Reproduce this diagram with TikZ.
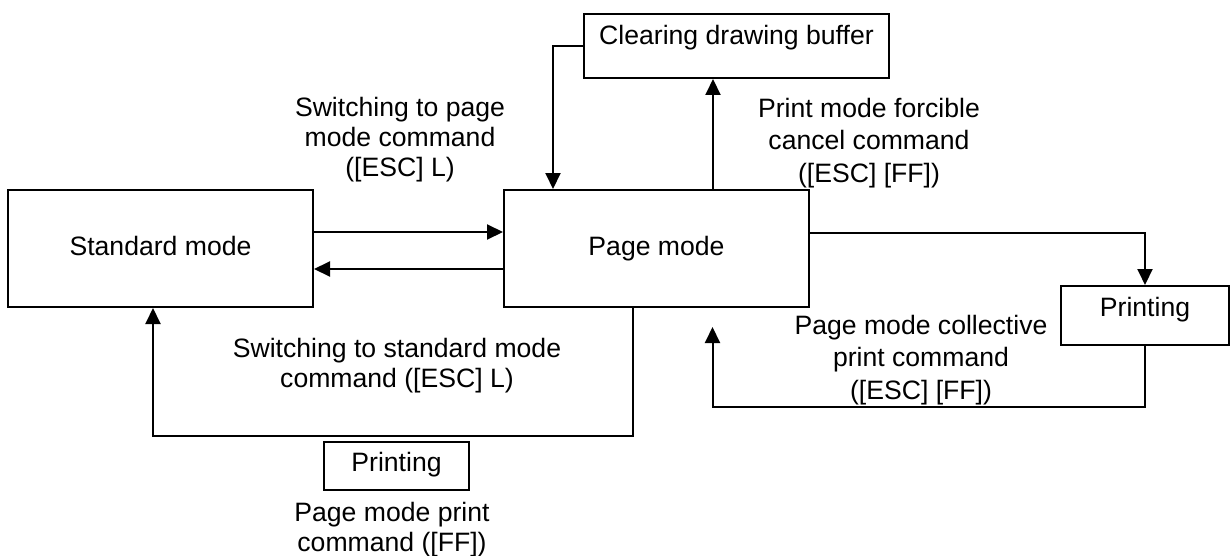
\documentclass[tikz,border=0pt]{standalone}
\usepackage{fontspec}
\setmainfont{Liberation Sans}
\usetikzlibrary{positioning, arrows.meta}

\tikzset{
    box/.style={draw, line width=1pt, inner sep=0pt, text height=9.5pt, text depth=2.7pt},
    lbl/.style={align=center, inner sep=0pt},
    wide/.style={font=\fontsize{13.3}{16.3}\selectfont}
}

\begin{document}
\begin{tikzpicture}[x=0.5pt, y=-0.5pt, line width=1pt, >={Triangle[width=7.5pt,length=8pt]},
    font=\fontsize{13.3}{15}\selectfont]
    \useasboundingbox (0,0) rectangle (1231,556);

    \node[box, minimum width=152.5pt, minimum height=58.5pt] (std) at (160.5,248.5) {Standard mode};
    \node[box, minimum width=152.5pt, minimum height=58.5pt] (page) [right=94.5pt of std] {Page mode};
    \node[box, minimum width=152.5pt, minimum height=32pt, text depth=11pt] (clear) [above=55pt of page, xshift=40pt] {Clearing drawing buffer};
    \node[box, minimum width=84pt, minimum height=29.5pt, text depth=8.6pt] (prtR) [right=125pt of page, yshift=-33.5pt] {Printing};
    \node[box, minimum width=72.5pt, minimum height=24pt, text depth=4pt] (prtB) at (396.5,466) {Printing};

    \node[lbl] (toPage) at (400,140) {Switching to page\\mode command\\([ESC] L)};
    \node[lbl, wide] (cancel) at (869,143) {Print mode forcible\\cancel command\\([ESC] [FF])};
    \node[lbl] (toStd) at (397,366) {Switching to standard mode\\command ([ESC] L)};
    \node[lbl] (prtCmd) at (392,530) {Page mode print\\command ([FF])};
    \node[lbl, wide] (collect) at (921,360) {Page mode collective\\print command\\([ESC] [FF])};

    \coordinate (back) at (712.5,327);

    \draw[->] ([yshift=8.25pt]std.east) -- ([yshift=8.25pt]page.west);
    \draw[->] ([yshift=-10.25pt]page.west) -- ([yshift=-10.25pt]std.east);
    \draw[->] ([xshift=-11.75pt]page.south) -- ++(0,128) -| ([xshift=-3.75pt]std.south);
    \draw[->] (clear.west) -| ([xshift=-51.75pt]page.north);
    \draw[->] ([xshift=28.25pt]page.north) -- ([xshift=-11.75pt]clear.south);
    \draw[->] ([yshift=7.75pt]page.east) -| (prtR.north);
    \draw[->] (prtR.south) -- ++(0,61) -| (back);
\end{tikzpicture}
\end{document}
